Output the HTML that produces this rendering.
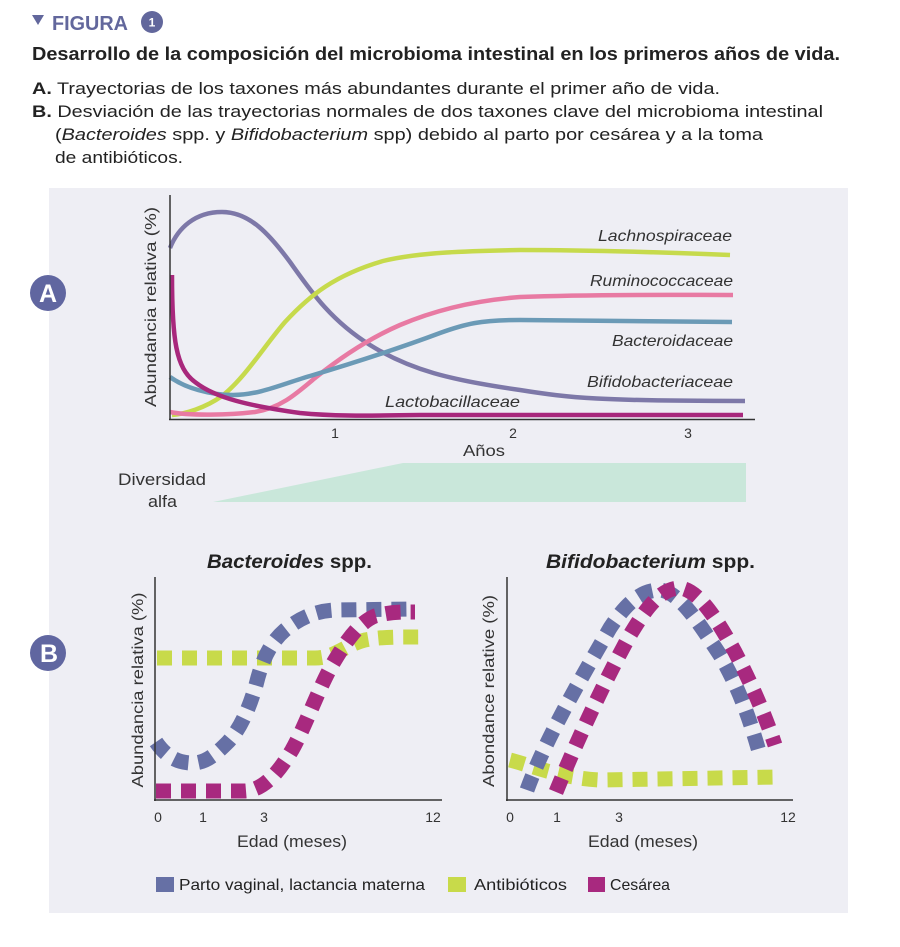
<!DOCTYPE html>
<html><head><meta charset="utf-8"><style>
html,body{margin:0;padding:0;background:#fff;}
svg{display:block;}
text{font-family:"Liberation Sans",Arial,sans-serif;}
</style></head><body>
<svg width="900" height="947" viewBox="0 0 900 947" xmlns="http://www.w3.org/2000/svg">
<rect x="0" y="0" width="900" height="947" fill="#ffffff"/>
<!-- header -->
<polygon points="32,15 44,15 38,25" fill="#62679c"/>
<text x="52" y="30" font-size="20" font-weight="bold" fill="#62679c" textLength="76" lengthAdjust="spacingAndGlyphs">FIGURA</text>
<circle cx="152" cy="22" r="11" fill="#62679c"/>
<text x="152" y="26.5" font-size="12" font-weight="bold" fill="#fff" text-anchor="middle">1</text>

<text x="32" y="60" font-size="18" font-weight="bold" fill="#222" textLength="808" lengthAdjust="spacingAndGlyphs">Desarrollo de la composición del microbioma intestinal en los primeros años de vida.</text>
<text x="32" y="94" font-size="17" fill="#222" textLength="688" lengthAdjust="spacingAndGlyphs"><tspan font-weight="bold">A.</tspan> Trayectorias de los taxones más abundantes durante el primer año de vida.</text>
<text x="32" y="117" font-size="17" fill="#222" textLength="791" lengthAdjust="spacingAndGlyphs"><tspan font-weight="bold">B.</tspan> Desviación de las trayectorias normales de dos taxones clave del microbioma intestinal</text>
<text x="55" y="140" font-size="17" fill="#222" textLength="708" lengthAdjust="spacingAndGlyphs">(<tspan font-style="italic">Bacteroides</tspan> spp. y <tspan font-style="italic">Bifidobacterium</tspan> spp) debido al parto por cesárea y a la toma</text>
<text x="55" y="163" font-size="17" fill="#222" textLength="128" lengthAdjust="spacingAndGlyphs">de antibióticos.</text>

<!-- panel -->
<rect x="49" y="188" width="799" height="725" fill="#eeeef4"/>

<circle cx="48" cy="293" r="18" fill="#6066a0"/>
<text x="48" y="302" font-size="25" font-weight="bold" fill="#fff" text-anchor="middle">A</text>
<circle cx="48" cy="653" r="18" fill="#6066a0"/>
<text x="49" y="662" font-size="25" font-weight="bold" fill="#fff" text-anchor="middle">B</text>

<!-- Panel A -->
<g fill="none" stroke-width="4.5" stroke-linecap="butt">
<path d="M170,248 C178,228 195,212 222,212 C250,212 270,235 290,262 C310,290 330,320 370,345 C410,370 450,380 520,390 C570,398 600,401 745,401" stroke="#7d78a8"/>
<path d="M172,415 C185,414 205,408 222,396 C245,378 265,345 285,322 C310,295 335,275 383,261 C420,252 470,251 520,250 C600,250 680,253 730,255" stroke="#c6da4c"/>
<path d="M170,412 C190,416 230,415 255,412 C280,408 295,395 315,378 C340,358 370,338 400,325 C440,308 480,300 520,297 C600,294 680,295 733,295" stroke="#e87aa3"/>
<path d="M170,377 C185,388 210,395 233,395 C260,395 285,383 310,376 C350,364 400,348 440,333 C465,324 480,320 520,320 C600,321 680,322 732,322" stroke="#6b9ab6"/>
<path d="M172,275 C172,340 176,368 195,382 C215,398 250,406 300,413 C330,416 360,416 420,415 C550,415 650,415 743,415" stroke="#a8287c"/>
</g>
<line x1="170" y1="195" x2="170" y2="420" stroke="#333" stroke-width="1.5"/>
<line x1="169" y1="419.5" x2="755" y2="419.5" stroke="#333" stroke-width="1.5"/>
<g font-size="14" fill="#333" text-anchor="middle">
<text x="335" y="438">1</text>
<text x="513" y="438">2</text>
<text x="688" y="438">3</text>
</g>
<text x="463" y="456" font-size="16" fill="#333" textLength="42" lengthAdjust="spacingAndGlyphs">Años</text>
<text transform="translate(156,307) rotate(-90)" font-size="16" fill="#333" text-anchor="middle" textLength="200" lengthAdjust="spacingAndGlyphs">Abundancia relativa (%)</text>

<g font-size="16" font-style="italic" fill="#333">
<text x="598" y="241" textLength="134" lengthAdjust="spacingAndGlyphs">Lachnospiraceae</text>
<text x="590" y="286" textLength="143" lengthAdjust="spacingAndGlyphs">Ruminococcaceae</text>
<text x="612" y="346" textLength="121" lengthAdjust="spacingAndGlyphs">Bacteroidaceae</text>
<text x="587" y="387" textLength="146" lengthAdjust="spacingAndGlyphs">Bifidobacteriaceae</text>
<text x="385" y="407" textLength="135" lengthAdjust="spacingAndGlyphs">Lactobacillaceae</text>
</g>

<polygon points="213,502 403,463 746,463 746,502" fill="#c9e7da"/>
<text x="118" y="485" font-size="17" fill="#333" textLength="88" lengthAdjust="spacingAndGlyphs">Diversidad</text>
<text x="148" y="507" font-size="17" fill="#333" textLength="29" lengthAdjust="spacingAndGlyphs">alfa</text>

<!-- Panel B left -->
<text x="207" y="568" font-size="19" font-weight="bold" fill="#222" textLength="165" lengthAdjust="spacingAndGlyphs"><tspan font-style="italic">Bacteroides</tspan> spp.</text>
<g fill="none" stroke-width="15" stroke-dasharray="15 10">
<path d="M157,658 L315,658 C335,658 345,645 365,640 C380,637 395,637 420,637" stroke="#c8da4a"/>
<path d="M156,742 C165,755 175,762 190,763 C205,764 215,755 228,742 C242,727 250,705 256,685 C262,660 270,643 285,630 C300,618 315,611 335,610 L412,609" stroke="#6670a5"/>
<path d="M156,791 L245,791 C265,790 280,770 292,750 C305,727 318,690 332,665 C345,643 358,623 375,616 C390,612 400,612 415,612" stroke="#a8297f"/>
</g>
<line x1="155" y1="577" x2="155" y2="801" stroke="#333" stroke-width="1.5"/>
<line x1="154" y1="800" x2="442" y2="800" stroke="#333" stroke-width="1.5"/>
<g font-size="14" fill="#333" text-anchor="middle">
<text x="158" y="822">0</text>
<text x="203" y="822">1</text>
<text x="264" y="822">3</text>
<text x="433" y="822">12</text>
</g>
<text x="237" y="847" font-size="17" fill="#333" textLength="110" lengthAdjust="spacingAndGlyphs">Edad (meses)</text>
<text transform="translate(143,690) rotate(-90)" font-size="16" fill="#333" text-anchor="middle" textLength="195" lengthAdjust="spacingAndGlyphs">Abundancia relativa (%)</text>

<!-- Panel B right -->
<text x="546" y="568" font-size="19" font-weight="bold" fill="#222" textLength="209" lengthAdjust="spacingAndGlyphs"><tspan font-style="italic">Bifidobacterium</tspan> spp.</text>
<g fill="none" stroke-width="15" stroke-dasharray="15 10">
<path d="M510,760 C530,765 560,778 600,780 L778,777" stroke="#c8da4a"/>
<path d="M527,790 C545,740 580,680 610,628 C625,605 640,590 660,590 C680,592 700,625 720,655 C740,690 750,720 760,755" stroke="#6670a5"/>
<path d="M556,792 C575,745 605,680 630,635 C645,610 660,588 680,588 C700,590 720,625 735,652 C752,685 765,715 775,745" stroke="#a8297f"/>
</g>
<line x1="507" y1="577" x2="507" y2="801" stroke="#333" stroke-width="1.5"/>
<line x1="506" y1="800" x2="793" y2="800" stroke="#333" stroke-width="1.5"/>
<g font-size="14" fill="#333" text-anchor="middle">
<text x="510" y="822">0</text>
<text x="557" y="822">1</text>
<text x="619" y="822">3</text>
<text x="788" y="822">12</text>
</g>
<text x="588" y="847" font-size="17" fill="#333" textLength="110" lengthAdjust="spacingAndGlyphs">Edad (meses)</text>
<text transform="translate(494,691) rotate(-90)" font-size="16" fill="#333" text-anchor="middle" textLength="192" lengthAdjust="spacingAndGlyphs">Abondance relative (%)</text>

<!-- legend -->
<rect x="156" y="877" width="18" height="15" fill="#6670a5"/>
<text x="179" y="890" font-size="16" fill="#222" textLength="246" lengthAdjust="spacingAndGlyphs">Parto vaginal, lactancia materna</text>
<rect x="448" y="877" width="18" height="15" fill="#c8da4a"/>
<text x="474" y="890" font-size="16" fill="#222" textLength="93" lengthAdjust="spacingAndGlyphs">Antibióticos</text>
<rect x="588" y="877" width="17" height="15" fill="#a8297f"/>
<text x="610" y="890" font-size="16" fill="#222" textLength="60" lengthAdjust="spacingAndGlyphs">Cesárea</text>
</svg>
</body></html>
